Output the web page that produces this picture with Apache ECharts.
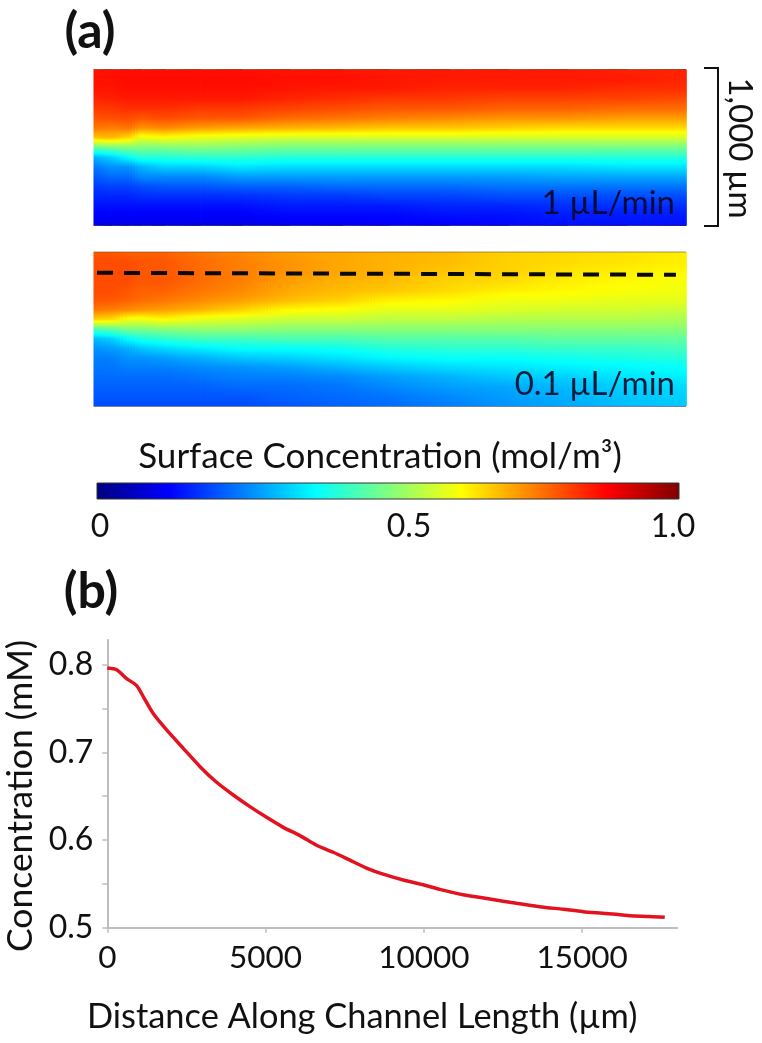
<!DOCTYPE html>
<html>
<head>
<meta charset="utf-8">
<title>Surface concentration in a microchannel</title>
<script src="https://cdn.jsdelivr.net/npm/echarts@6/dist/echarts.min.js"></script>
<style>html,body{margin:0;padding:0;background:#fff}#chart{width:762px;height:1043px}</style>
</head>
<body>
<div id="chart"></div>
<script>
// Concentration profile along the channel (panel b)
const distanceUm = [0,295,610,927,1190,1474,1874,2400,2930,3454,3980,4507,5033,5560,6086,6613,7140,7666,8189,8715,9347,10000,10505,11243,12085,12927,13664,14402,15033,15770,16507,17139,17613];
const concentrationMM = [.796,.794,.784,.776,.760,.743,.7255,.7045,.6836,.6658,.6513,.638,.6258,.6144,.605,.594,.586,.577,.568,.561,.5544,.5487,.5437,.5376,.5327,.5278,.524,.521,.5183,.5163,.5137,.5129,.5118];
const xTickValues = [0,5000,10000,15000];
const yLabelValues = [.5,.6,.7,.8];
const yTickValues = [.5,.55,.6,.65,.7,.75,.8];

// Surface maps: each row below is one column of the map, top to bottom, in mol/m3
const columnStarts = [0,3,6,8,12,18,25,33,42,50,60,70,80,90,100];
const panel1Values = [
 [.855,.86,.855,.84,.82,.79,.76,.68,.47,.30,.24,.21,.18,.16,.14,.12,.10],
 [.86,.86,.855,.845,.82,.80,.75,.69,.49,.33,.27,.23,.19,.16,.14,.12,.10],
 [.86,.865,.86,.85,.83,.80,.76,.66,.50,.38,.27,.23,.19,.16,.14,.12,.10],
 [.86,.865,.86,.85,.83,.79,.73,.60,.50,.41,.30,.26,.20,.17,.14,.12,.10],
 [.86,.865,.86,.85,.83,.80,.74,.62,.50,.41,.33,.26,.21,.17,.14,.12,.10],
 [.86,.865,.86,.85,.82,.79,.72,.60,.51,.42,.33,.26,.21,.17,.14,.12,.10],
 [.86,.865,.86,.85,.82,.79,.71,.59,.50,.42,.35,.28,.22,.17,.14,.12,.10],
 [.855,.86,.855,.84,.81,.77,.70,.58,.49,.41,.34,.28,.22,.18,.15,.13,.11],
 [.855,.86,.85,.83,.80,.76,.69,.58,.49,.41,.34,.28,.23,.18,.15,.13,.11],
 [.85,.855,.85,.82,.79,.75,.68,.58,.49,.41,.34,.28,.23,.19,.15,.13,.12],
 [.85,.85,.84,.82,.79,.74,.68,.58,.49,.41,.34,.28,.23,.19,.16,.14,.12],
 [.85,.85,.84,.81,.78,.73,.67,.58,.49,.41,.34,.28,.24,.20,.16,.14,.13],
 [.85,.85,.84,.81,.78,.73,.66,.58,.49,.41,.34,.29,.24,.20,.17,.15,.14],
 [.84,.85,.83,.81,.77,.72,.66,.58,.49,.41,.35,.29,.24,.20,.17,.15,.14],
 [.84,.84,.83,.80,.77,.72,.66,.58,.49,.41,.35,.29,.24,.20,.17,.15,.14]
];
const panel2Values = [
 [.79,.80,.80,.80,.80,.79,.76,.67,.45,.31,.27,.25,.24,.23,.22,.21,.20],
 [.79,.80,.80,.80,.80,.79,.75,.66,.47,.33,.28,.25,.24,.23,.22,.21,.20],
 [.78,.80,.80,.80,.79,.78,.74,.61,.50,.38,.30,.27,.25,.23,.22,.21,.20],
 [.78,.79,.79,.79,.78,.77,.73,.61,.50,.40,.32,.27,.25,.23,.22,.21,.20],
 [.78,.79,.79,.79,.78,.76,.72,.63,.51,.42,.34,.28,.25,.23,.22,.21,.20],
 [.76,.77,.77,.77,.76,.74,.70,.60,.52,.44,.36,.30,.26,.24,.22,.21,.20],
 [.74,.75,.75,.75,.74,.72,.67,.59,.52,.44,.38,.32,.27,.25,.23,.21,.20],
 [.72,.73,.73,.72,.71,.69,.63,.57,.51,.45,.38,.33,.28,.25,.23,.22,.21],
 [.71,.71,.71,.70,.69,.67,.62,.57,.51,.45,.39,.35,.30,.26,.24,.23,.22],
 [.70,.70,.70,.69,.68,.64,.60,.56,.51,.46,.41,.37,.32,.28,.26,.24,.23],
 [.69,.69,.68,.67,.66,.63,.60,.56,.51,.46,.42,.38,.34,.30,.28,.26,.25],
 [.67,.67,.67,.66,.64,.61,.59,.55,.51,.46,.42,.38,.35,.32,.29,.28,.27],
 [.66,.66,.65,.64,.63,.61,.58,.55,.51,.47,.43,.39,.36,.33,.31,.30,.29],
 [.65,.65,.64,.63,.62,.60,.58,.55,.51,.47,.43,.40,.37,.35,.33,.32,.31],
 [.64,.64,.63,.62,.61,.60,.57,.54,.51,.47,.44,.41,.38,.36,.34,.33,.32]
];

// Sampling line across the lower map: percent of width, fraction of height
const sampleLineX = [.6,98.3];
const sampleLineY = [.135,.148];

// Colour scale
const jetColors = ['#00007f','#0000ff','#007fff','#00ffff','#7fff7f','#ffff00','#ff7f00','#ff0000','#7f0000'];
const colorbarTicks = [.212,.31,.408,.506,.604,.702,.797,.898];

const FONT = 'Lato';
const columns = columnStarts.slice(0, -1).map((s, i) => [s, columnStarts[i + 1]]);

// Vertical gradient of one column; a stop is added wherever the value crosses a colour-scale break,
// so the pure yellow and cyan bands are kept
function columnFill(col) {
  const n = jetColors.length - 1, last = col.length - 1, stops = [];
  col.forEach((v, i) => {
    stops.push({offset: i / last, color: echarts.color.lerp(v, jetColors)});
    if (i === last) return;
    const w = col[i + 1], lo = Math.min(v, w), hi = Math.max(v, w);
    const crossings = [];
    for (let k = 0; k <= n; k++) {
      const b = k / n;
      if (b > lo && b < hi) crossings.push({t: (b - v) / (w - v), c: jetColors[k]});
    }
    crossings.sort((p, q) => p.t - q.t).forEach(x => stops.push({offset: (i + x.t) / last, color: x.c}));
  });
  return new echarts.graphic.LinearGradient(0, 0, 0, 1, stops);
}
// Each strip shows one column of readings and fades into the next one, so the map has no visible seams
function mapRender(values) {
  return function (params, api) {
    const a = api.coord([api.value(0), 0]);
    const b = api.coord([api.value(1), 1]);
    const i = params.dataIndex;
    const w = b[0] - a[0], h = b[1] - a[1];
    const children = [{type: 'rect', shape: {x: a[0], y: a[1], width: w + .6, height: h}, style: {fill: columnFill(values[i])}}];
    const steps = Math.max(4, Math.round(w / 3));
    const next = columnFill(values[i + 1]);
    for (let k = 1; k <= steps; k++) {
      children.push({type: 'rect',
        shape: {x: a[0] + w * (k - 1) / steps, y: a[1], width: w / steps + .6, height: h},
        style: {fill: next, opacity: (k - .5) / steps}});
    }
    return {type: 'group', children};
  };
}
function barRender(params, api) {
  const a = api.coord([0, 0]);
  const b = api.coord([1, 1]);
  return {
    type: 'rect',
    shape: {x: a[0], y: b[1], width: b[0] - a[0], height: a[1] - b[1]},
    style: {
      fill: new echarts.graphic.LinearGradient(0, 0, 1, 0,
        jetColors.map((c, i) => ({offset: i / (jetColors.length - 1), color: c}))),
      stroke: '#333', lineWidth: 1
    }
  };
}
const hidden = {show: false};
function mapAxes(g) {
  return {
    x: {type: 'value', gridIndex: g, min: 0, max: 100, show: false},
    y: {type: 'value', gridIndex: g, min: 0, max: 1, inverse: true, show: false}
  };
}
const m1 = mapAxes(0), m2 = mapAxes(1);
const tickAxis = (pos) => ({
  type: 'value', gridIndex: 2, min: 0, max: 1, position: pos,
  axisLine: hidden, splitLine: hidden, axisLabel: hidden,
  axisTick: {show: true, inside: true, length: 3, customValues: colorbarTicks, lineStyle: {color: '#222', width: 1}}
});
function txt(text, x, y, size, extra) {
  return {type: 'text', x, y, z: 50, style: Object.assign({text, fontSize: size, fontFamily: FONT, fill: '#111', align: 'center', verticalAlign: 'middle'}, extra || {})};
}
function edge(x1, y1, x2, y2, color) {
  return {type: 'line', z: 40, shape: {x1, y1, x2, y2}, style: {stroke: color, lineWidth: 1}};
}

const option = {
  animation: false,
  backgroundColor: '#fff',
  grid: [
    {left: 93.5, top: 69.5, width: 592.5, height: 156, outerBoundsMode: 'none'},
    {left: 93.5, top: 252, width: 592.5, height: 154, outerBoundsMode: 'none'},
    {left: 97, top: 483, width: 582, height: 16, outerBoundsMode: 'none'},
    {left: 107.3, top: 640, width: 569.7, height: 287.7, outerBoundsMode: 'none'}
  ],
  xAxis: [
    m1.x, m2.x, tickAxis('bottom'),
    {
      type: 'value', gridIndex: 3, min: 0, max: 18000,
      name: 'Distance Along Channel Length (µm)', nameLocation: 'middle', nameGap: 72,
      nameTextStyle: {fontFamily: FONT, fontSize: 34.4, color: '#111', padding: [0, 60, 0, 0]},
      nameMoveOverlap: false,
      axisLine: {lineStyle: {color: '#bdbdbd', width: 2}},
      axisTick: {show: true, length: 5, customValues: xTickValues, lineStyle: {color: '#bdbdbd', width: 1.5}},
      axisLabel: {customValues: xTickValues, formatter: v => String(v), fontFamily: FONT, fontSize: 31.5, color: '#111', margin: 14},
      splitLine: hidden
    },
    tickAxis('top')
  ],
  yAxis: [
    m1.y, m2.y,
    {type: 'value', gridIndex: 2, min: 0, max: 1, show: false},
    {
      type: 'value', gridIndex: 3, min: .5, max: .828,
      name: 'Concentration (mM)', nameLocation: 'middle', nameGap: 69, nameRotate: 90,
      nameTextStyle: {fontFamily: FONT, fontSize: 35.5, color: '#111', padding: [0, 24, 0, 0]},
      nameMoveOverlap: false,
      axisLine: {show: true, lineStyle: {color: '#bdbdbd', width: 2}},
      axisTick: {show: true, length: 5, customValues: yTickValues, lineStyle: {color: '#bdbdbd', width: 1.5}},
      axisLabel: {customValues: yLabelValues, formatter: v => v.toFixed(1), fontFamily: FONT, fontSize: 32, color: '#111', margin: 14},
      splitLine: hidden
    }
  ],
  series: [
    {type: 'custom', xAxisIndex: 0, yAxisIndex: 0, data: columns, encode: {x: [0, 1]}, renderItem: mapRender(panel1Values), silent: true},
    {type: 'custom', xAxisIndex: 1, yAxisIndex: 1, data: columns, encode: {x: [0, 1]}, renderItem: mapRender(panel2Values), silent: true},
    {type: 'line', xAxisIndex: 1, yAxisIndex: 1, z: 5, symbol: 'none', silent: true,
      data: sampleLineX.map((x, i) => [x, sampleLineY[i]]),
      lineStyle: {color: '#0a0a0a', width: 4, type: [16, 11]}},
    {type: 'custom', xAxisIndex: 2, yAxisIndex: 2, data: [[0, 1]], encode: {x: [0, 1]}, renderItem: barRender, z: 1, silent: true},
    {type: 'line', xAxisIndex: 3, yAxisIndex: 3, symbol: 'none', silent: true, smooth: .25,
      data: distanceUm.map((d, i) => [d, concentrationMM[i]]),
      lineStyle: {color: '#e2131f', width: 3.5}}
  ],
  graphic: [
    txt('(a)', 90, 32, 50, {fontWeight: 'bold'}),
    txt('(b)', 91, 592, 50, {fontWeight: 'bold'}),
    txt('1 µL/min', 675, 203, 33, {align: 'right', fill: '#0a0a3a'}),
    txt('0.1 µL/min', 675, 384, 33, {align: 'right', fill: '#0a1a3a'}),
    txt('Surface Concentration (mol/m³)', 380, 457, 35),
    txt('0', 100, 527, 32),
    txt('0.5', 409, 527, 32),
    txt('1.0', 673, 527, 32),
    {type: 'text', x: 740, y: 148, rotation: -Math.PI / 2, z: 50,
      style: {text: '1,000 µm', fontSize: 33, fontFamily: FONT, fill: '#111', align: 'center', verticalAlign: 'middle'}},
    {type: 'polyline', z: 40, shape: {points: [[704, 68], [718, 68], [718, 226], [704, 226]]},
      style: {stroke: '#111', lineWidth: 2, fill: 'none'}},
    edge(93.5, 69.5, 686, 69.5, 'rgba(110,30,20,.55)'),
    edge(93.5, 225.5, 686, 225.5, 'rgba(0,0,90,.6)'),
    edge(93.5, 252, 686, 252, 'rgba(110,80,30,.6)'),
    edge(93.5, 406.5, 686, 406.5, 'rgba(10,50,90,.6)')
  ]
};
const chart = echarts.init(document.getElementById('chart'), null, {renderer: 'canvas'});
chart.setOption(option);
</script>
</body>
</html>
